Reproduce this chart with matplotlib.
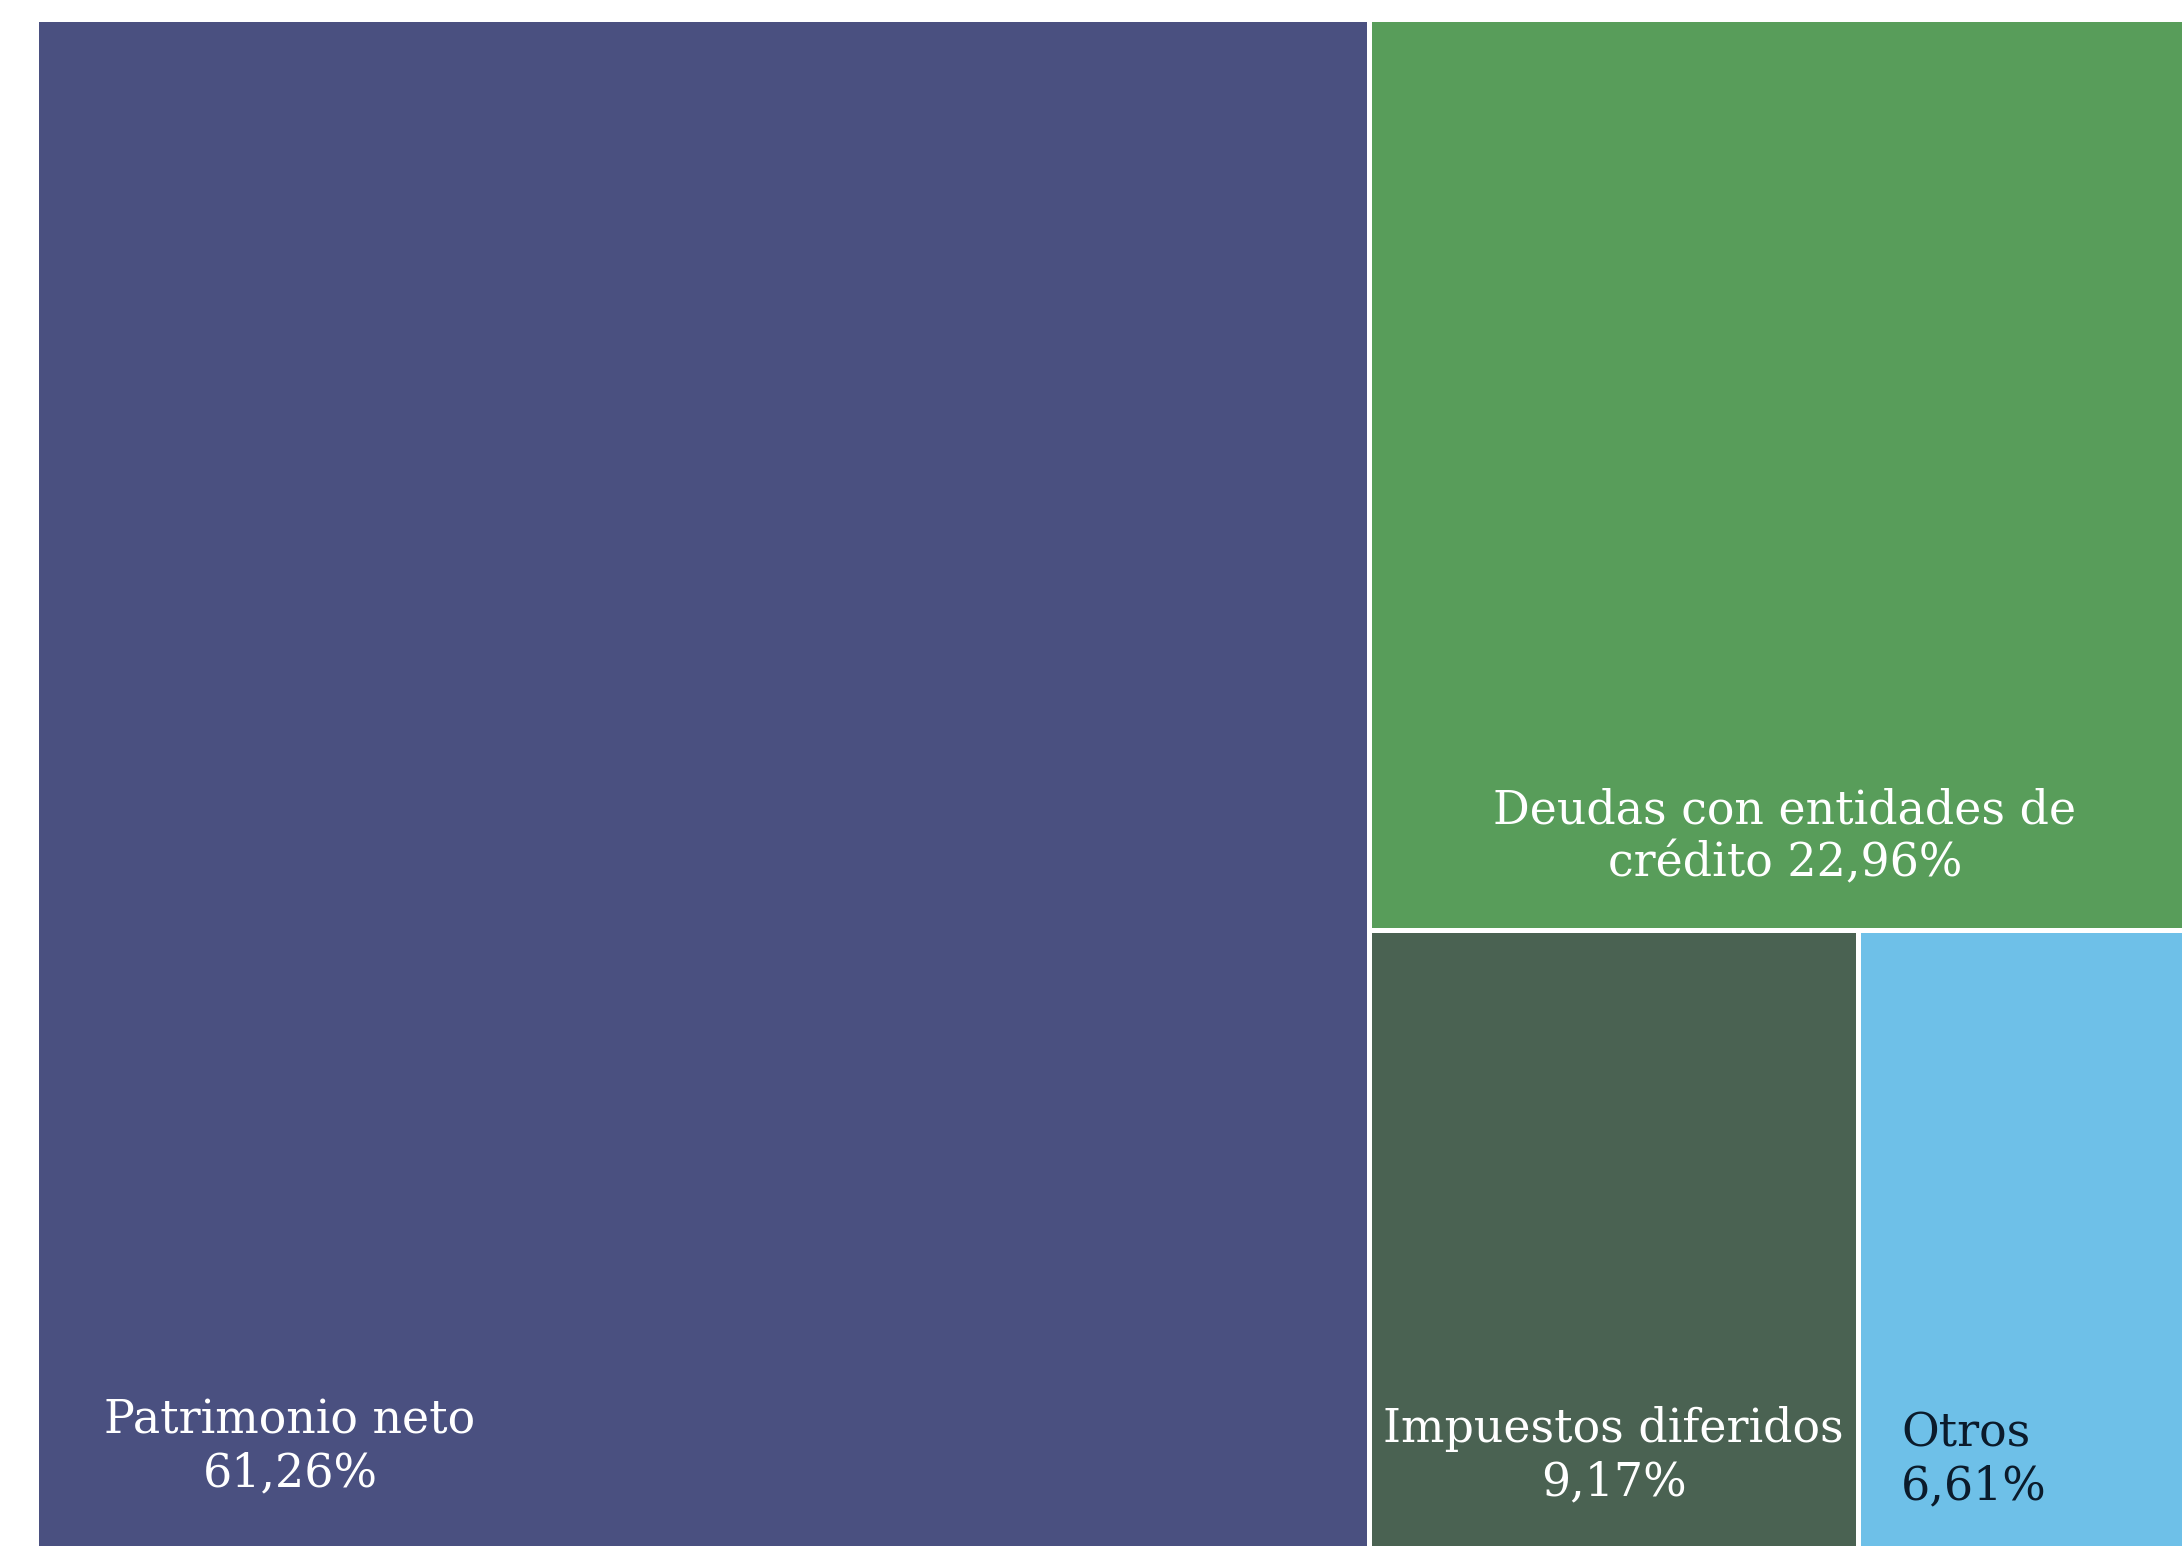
import matplotlib
matplotlib.use('Agg')
import matplotlib.pyplot as plt
from matplotlib.patches import Rectangle

labels = ['Patrimonio neto', 'Deudas con entidades de\ncrédito', 'Impuestos diferidos', 'Otros']
values = [61.26, 22.96, 9.17, 6.61]
colors = ['#4A5080', '#589D5A', '#4A6252', '#6EC0E8']
text_colors = ['white', 'white', 'white', '#0B1B2B']

W, H = 2182, 1546
# treemap box (runs a bit past the right/bottom edge, like the original)
x0, y0, tw, th = 35.5, 18.5, 2176, 1538

fig = plt.figure(figsize=(W / 100, H / 100), dpi=100)
ax = fig.add_axes([0, 0, 1, 1])
ax.set_xlim(0, W)
ax.set_ylim(H, 0)
ax.axis('off')

tot = sum(values)
# slice and dice: big one on the left, the rest in a column on the right
w0 = tw * values[0] / tot
rest = sum(values[1:])
h1 = th * values[1] / rest
w2 = (tw - w0) * values[2] / (values[2] + values[3])
rects = [
    (x0, y0, w0, th),
    (x0 + w0, y0, tw - w0, h1),
    (x0 + w0, y0 + h1, w2, th - h1),
    (x0 + w0 + w2, y0 + h1, tw - w0 - w2, th - h1),
]
for (x, y, w, h), c in zip(rects, colors):
    ax.add_patch(Rectangle((x, y), w, h, facecolor=c, edgecolor='white', linewidth=3.6))

fs = 33
font = 'DejaVu Serif'

def pct(v):
    return f'{v:.2f}'.replace('.', ',') + '%'

ax.text(290, 1447, labels[0] + '\n' + pct(values[0]), ha='center', va='center',
        color=text_colors[0], fontsize=fs, family=font, linespacing=1.22)
ax.text(rects[1][0] + rects[1][2] / 2 - 5, 837, labels[1] + ' ' + pct(values[1]),
        ha='center', va='center', color=text_colors[1], fontsize=fs, family=font, linespacing=1.22)
ax.text(rects[2][0] + rects[2][2] / 2, 1456, labels[2] + '\n' + pct(values[2]),
        ha='center', va='center', color=text_colors[2], fontsize=fs, family=font, linespacing=1.22)
ax.text(1901, 1460, labels[3] + '\n' + pct(values[3]), ha='left', va='center',
        color=text_colors[3], fontsize=fs, family=font, linespacing=1.22)

fig.savefig('out.png', dpi=100)
